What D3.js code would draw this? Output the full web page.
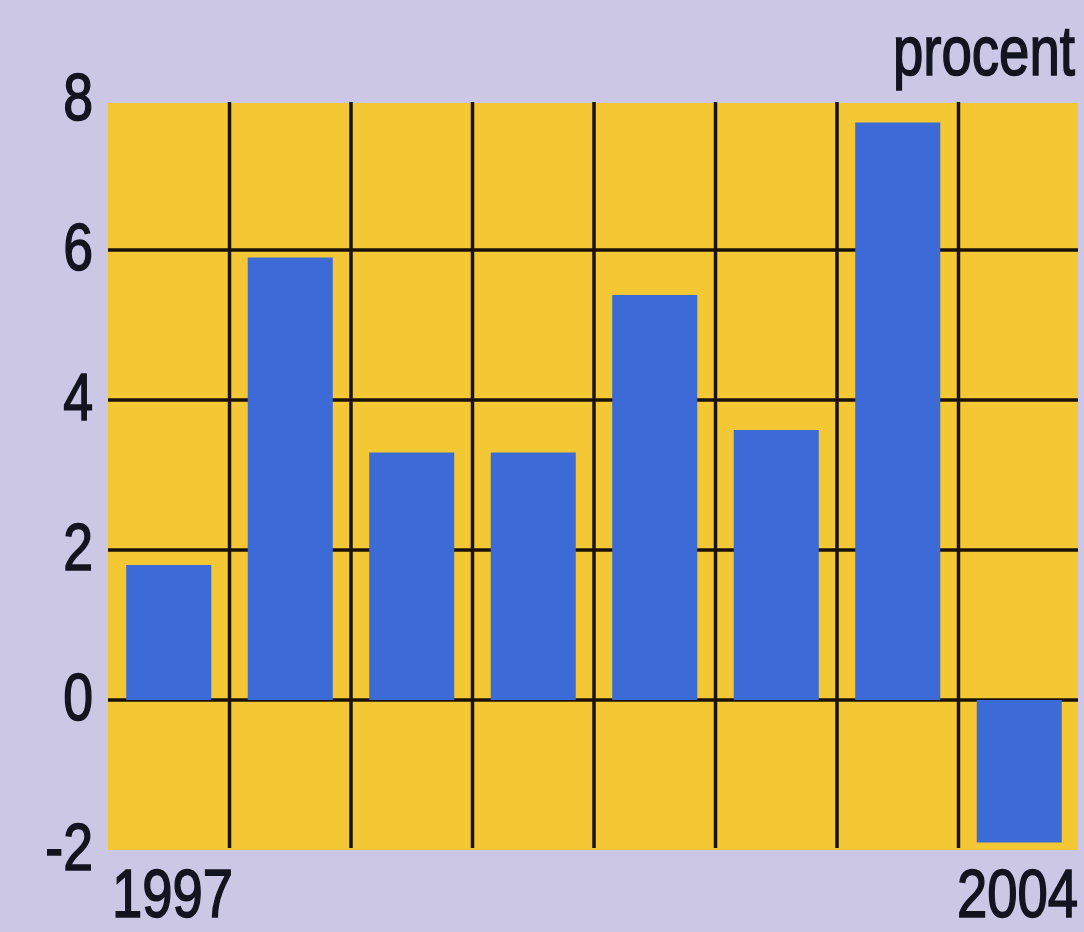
<!DOCTYPE html>
<html>
<head>
<meta charset="utf-8">
<script src="https://cdn.jsdelivr.net/npm/d3@7"></script>
<style>
  html, body { margin: 0; padding: 0; background: #cbc7e5; }
  svg { display: block; }
  text { font-family: "Liberation Sans", Arial, sans-serif; fill: #141420; stroke: #141420; stroke-width: 1.6px; }
</style>
</head>
<body>
<svg width="1084" height="932"></svg>
<script>
var years = ['1997', '1998', '1999', '2000', '2001', '2002', '2003', '2004'];
var values = [1.8, 5.9, 3.3, 3.3, 5.4, 3.6, 7.7, -1.9];
var yTicks = [8, 6, 4, 2, 0, -2];
var gridValues = [6, 4, 2, 0];
var unitLabel = 'procent';

var svg = d3.select('svg');

var x = d3.scaleBand()
  .domain(years)
  .range([108, 1080])
  .padding(0);

var y = d3.scaleLinear()
  .domain([-2, 8])
  .range([850, 100]);

var bw = x.bandwidth();
var narrow = 0.8;

// yellow plot area
svg.append('rect')
  .attr('x', 108)
  .attr('y', y(8) + 3)
  .attr('width', 1078 - 108)
  .attr('height', y(-2) - y(8) - 3)
  .attr('fill', '#f4c834');

// horizontal grid
svg.append('g').selectAll('line')
  .data(gridValues)
  .enter()
  .append('line')
  .attr('x1', 108)
  .attr('x2', 1078)
  .attr('y1', function(d) { return y(d); })
  .attr('y2', function(d) { return y(d); })
  .attr('stroke', '#1a1208')
  .attr('stroke-width', 3.5);

// vertical grid between years
svg.append('g').selectAll('line')
  .data(years.slice(1))
  .enter()
  .append('line')
  .attr('x1', function(d) { return x(d); })
  .attr('x2', function(d) { return x(d); })
  .attr('y1', y(8) + 2)
  .attr('y2', y(-2) - 2)
  .attr('stroke', '#1a1208')
  .attr('stroke-width', 3.5);

// bars
svg.append('g').selectAll('rect')
  .data(values)
  .enter()
  .append('rect')
  .attr('x', function(d, i) { return x(years[i]) + bw * 0.15; })
  .attr('width', bw * 0.7)
  .attr('y', function(d) { return y(Math.max(0, d)); })
  .attr('height', function(d) { return Math.abs(y(d) - y(0)); })
  .attr('fill', '#3c6ad6');

// y labels
svg.append('g').selectAll('text')
  .data(yTicks)
  .enter()
  .append('text')
  .attr('transform', function(d) { return 'translate(93,' + (y(d) + 20) + ') scale(' + narrow + ',1)'; })
  .attr('text-anchor', 'end')
  .style('font-size', '67px')
  .text(function(d) { return d; });

// first and last year
svg.append('text')
  .attr('transform', 'translate(' + (x(years[0]) + 4) + ',917) scale(0.8,1)')
  .style('font-size', '68px')
  .text(years[0]);

svg.append('text')
  .attr('transform', 'translate(1078,917) scale(0.8,1)')
  .attr('text-anchor', 'end')
  .style('font-size', '68px')
  .text(years[years.length - 1]);

svg.append('text')
  .attr('transform', 'translate(1075,75) scale(0.78,1)')
  .attr('text-anchor', 'end')
  .style('font-size', '70px')
  .text(unitLabel);
</script>
</body>
</html>
